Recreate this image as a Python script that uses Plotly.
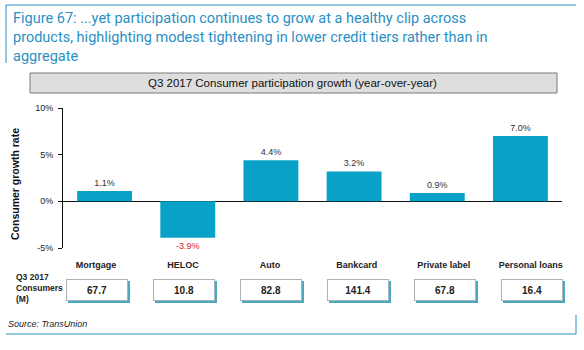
import plotly.graph_objects as go

categories = ["Mortgage", "HELOC", "Auto", "Bankcard", "Private label", "Personal loans"]
growth = [1.1, -3.9, 4.4, 3.2, 0.9, 7.0]
consumers = ["67.7", "10.8", "82.8", "141.4", "67.8", "16.4"]
y_ticks = [-5, 0, 5, 10]

title_text = ("Figure 67: ...yet participation continues to grow at a healthy clip across<br>"
              "products, highlighting modest tightening in lower credit tiers rather than in<br>"
              "aggregate")
header_text = "Q3 2017 Consumer participation growth (year-over-year)"

W, H = 584, 350
L, R, T, B = 63, 22, 108, 102
PW, PH = W - L - R, H - T - B


def px(xp):
    return (xp - L) / PW


def py(yp):
    return (H - B - yp) / PH


BAR = "#0aa1c9"
BLUE = "#2a8fc3"
ARIAL = "Liberation Sans, Arial, sans-serif"

label_colors = ["#e02020" if v < 0 else "#333333" for v in growth]
labels = [f"{v:.1f}%" for v in growth]

fig = go.Figure()
fig.add_trace(go.Bar(
    x=categories, y=growth, width=0.66,
    marker=dict(color=BAR, line=dict(width=0)),
    text=labels, textposition="outside", cliponaxis=False,
    textfont=dict(family=ARIAL, size=9, color=label_colors),
    showlegend=False, hoverinfo="skip",
))
# invisible trace on the table axis so the category labels sit on it
fig.add_trace(go.Scatter(x=categories, y=[None] * len(categories), xaxis="x2",
                         mode="markers", showlegend=False, hoverinfo="skip"))

fig.update_layout(
    width=W, height=H,
    margin=dict(l=L, r=R, t=T, b=B),
    paper_bgcolor="white", plot_bgcolor="white",
    bargap=0.34,
    xaxis=dict(type="category", showticklabels=False, ticks="", showline=False,
               showgrid=False, zeroline=False, range=[-0.5, 5.5]),
    xaxis2=dict(type="category", overlaying="x", side="bottom", anchor="y",
                range=[-0.38, 5.36], showline=False, showgrid=False, ticks="",
                tickfont=dict(family=ARIAL, size=9, color="#222222", weight="bold"),
                ticklabelstandoff=10),
    yaxis=dict(range=[-5, 10], tickvals=y_ticks, ticktext=[f"{v}%" for v in y_ticks],
               showgrid=False, zeroline=True, zerolinecolor="#111111", zerolinewidth=1,
               showline=True, linecolor="#111111", linewidth=1,
               ticks="outside", ticklen=4, tickcolor="#111111", ticklabelstandoff=3,
               tickfont=dict(family=ARIAL, size=9, color="#222222")),
)

shapes = []
line = dict(color=BLUE, width=1)
# frame lines
shapes.append(dict(type="line", xref="paper", yref="paper", x0=px(6), x1=px(576), y0=py(5), y1=py(5), line=line))
shapes.append(dict(type="line", xref="paper", yref="paper", x0=px(6), x1=px(6), y0=py(5), y1=py(63), line=line))
shapes.append(dict(type="line", xref="paper", yref="paper", x0=px(6), x1=px(576), y0=py(334), y1=py(334), line=line))
shapes.append(dict(type="line", xref="paper", yref="paper", x0=px(576), x1=px(576), y0=py(315), y1=py(334), line=line))
# header box
shapes.append(dict(type="rect", xref="paper", yref="paper", x0=px(30), x1=px(557), y0=py(93), y1=py(73),
                   fillcolor="#dedede", line=dict(color="#7a7a7a", width=1), layer="below"))
fig.update_layout(shapes=shapes)

ann = []
ann.append(dict(text=title_text, xref="paper", yref="paper", x=px(11), y=py(8),
                xanchor="left", yanchor="top", align="left", showarrow=False,
                font=dict(family="Roboto, sans-serif", size=14.5, color=BLUE)))
ann.append(dict(text=header_text, xref="paper", yref="paper", x=px(292), y=py(83),
                xanchor="center", yanchor="middle", showarrow=False,
                font=dict(family=ARIAL, size=11.5, color="#111111")))
ann.append(dict(text="<b>Consumer growth rate</b>", xref="paper", yref="paper", x=px(15), y=py(184),
                xanchor="center", yanchor="middle", textangle=-90, showarrow=False,
                font=dict(family=ARIAL, size=10.5, color="#111111")))
ann.append(dict(text="<b>Q3 2017<br>Consumers<br>(M)</b>", xref="paper", yref="paper", x=px(14), y=py(288),
                xanchor="left", yanchor="middle", align="left", showarrow=False,
                font=dict(family=ARIAL, size=8.5, color="#222222")))
ann.append(dict(text="<i>Source: TransUnion</i>", xref="paper", yref="paper", x=px(6), y=py(324),
                xanchor="left", yanchor="middle", showarrow=False,
                font=dict(family=ARIAL, size=9, color="#222222")))

for cat, val in zip(categories, consumers):
    # shadow
    ann.append(dict(text="", xref="x2", yref="paper", x=cat, y=py(290), xshift=3, yshift=-2,
                    xanchor="center", yanchor="middle",
                    showarrow=False, width=62, height=22, bgcolor="#4aa8c0", borderwidth=0, borderpad=0))
    ann.append(dict(text=f"<b>{val}</b>", xref="x2", yref="paper", x=cat, y=py(290), xshift=1,
                    xanchor="center", yanchor="middle",
                    showarrow=False, width=60, height=20, bgcolor="white",
                    bordercolor="#a9b4b8", borderwidth=1, borderpad=0,
                    font=dict(family=ARIAL, size=10, color="#222222")))

fig.update_layout(annotations=ann)
fig.write_html("out.html")
